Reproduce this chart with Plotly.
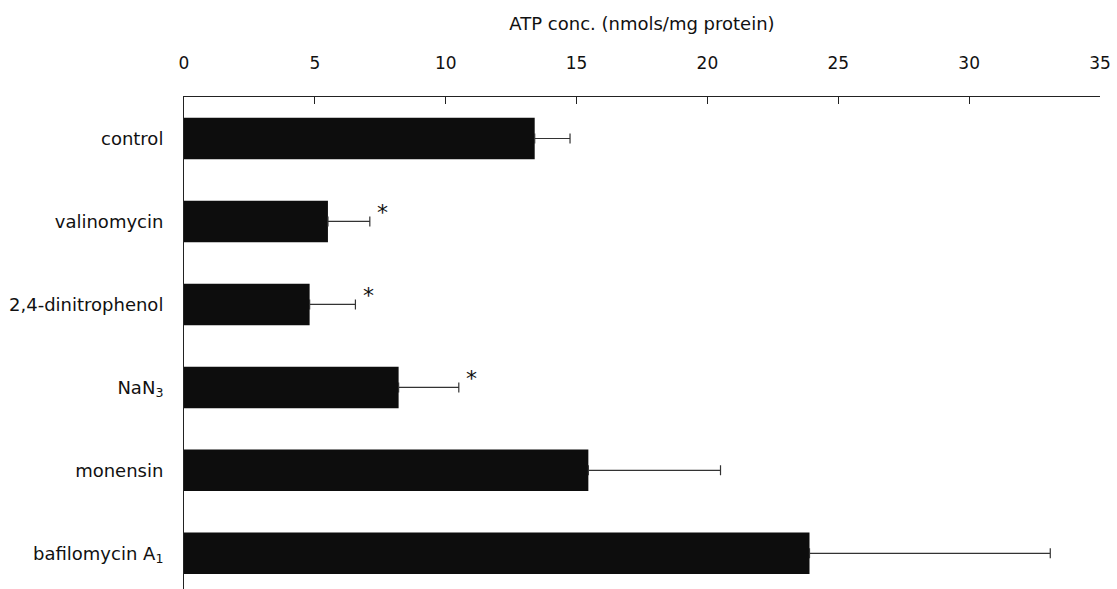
import plotly.graph_objects as go

categories = ["control", "valinomycin", "2,4-dinitrophenol", "NaN<sub>3</sub>",
              "monensin", "bafilomycin A<sub>1</sub>"]
atp_means = [13.4, 5.5, 4.8, 8.2, 15.45, 23.9]
atp_errors = [1.35, 1.6, 1.75, 2.3, 5.05, 9.2]
significant = [False, True, True, True, False, False]
x_ticks = [0, 5, 10, 15, 20, 25, 30, 35]

FONT = "DejaVu Sans"
ypos = list(range(len(categories)))

fig = go.Figure()
fig.add_trace(go.Bar(
    x=atp_means, y=ypos, orientation="h", width=0.5,
    marker=dict(color="#0d0d0d", line=dict(width=0)),
    error_x=dict(type="data", array=atp_errors, arrayminus=[0] * len(atp_errors),
                 symmetric=False, color="#333333", thickness=1.2, width=5),
    showlegend=False,
))

for i, (m, e, s) in enumerate(zip(atp_means, atp_errors, significant)):
    if s:
        fig.add_annotation(x=m + e, y=i, text="*", showarrow=False,
                           xanchor="center", yanchor="middle",
                           xshift=13, yshift=9,
                           font=dict(family=FONT, size=22, color="#111111"))

fig.update_layout(
    width=1117, height=589,
    margin=dict(l=184, r=17, t=97, b=0),
    paper_bgcolor="white", plot_bgcolor="white",
    font=dict(family=FONT, color="#111111"),
    bargap=0.5,
)
fig.update_xaxes(
    side="top", range=[0, 35], tickvals=x_ticks,
    ticks="inside", ticklen=7, tickcolor="#222222", tickwidth=1,
    showline=True, linecolor="#222222", linewidth=1, mirror=False,
    showgrid=False, zeroline=False,
    tickfont=dict(family=FONT, size=17, color="#111111"),
    ticklabelstandoff=20,
    title=dict(text="ATP conc. (nmols/mg protein)", standoff=17,
               font=dict(family=FONT, size=18, color="#111111")),
)
fig.update_yaxes(
    range=[5.43, -0.5], tickvals=ypos, ticktext=categories,
    ticks="", showline=True, linecolor="#222222", linewidth=1,
    showgrid=False, zeroline=False,
    tickfont=dict(family=FONT, size=18, color="#111111"),
    ticklabelstandoff=16,
)

fig.write_html("out.html",
               config={"displayModeBar": False, "staticPlot": True},
               post_script="document.body.style.margin='0';document.body.style.overflow='hidden';")
